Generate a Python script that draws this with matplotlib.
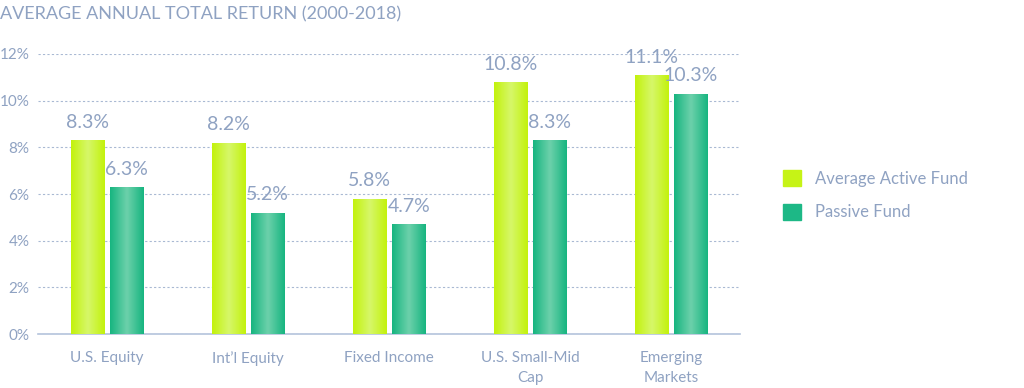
import numpy as np
import matplotlib.pyplot as plt
from matplotlib.colors import LinearSegmentedColormap
from matplotlib.patches import Patch

categories = ["U.S. Equity", "Int\u2019l Equity", "Fixed Income", "U.S. Small-Mid\nCap", "Emerging\nMarkets"]
active = [8.3, 8.2, 5.8, 10.8, 11.1]
passive = [6.3, 5.2, 4.7, 8.3, 10.3]
series_names = ["Average Active Fund", "Passive Fund"]

txt = "#8fa2c2"
grid_c = "#a9b9d3"
plt.rcParams['font.family'] = ['Lato', 'DejaVu Sans']

fig = plt.figure(figsize=(10.24, 3.88), dpi=100)
ax = fig.add_axes([0.037, 0.139, 0.686, 0.722])

x = np.arange(len(categories))
w = 0.235
off = 0.14

# colors: edge (darker) and center (lighter)
cmaps = [
    LinearSegmentedColormap.from_list("act", ["#c3f20c", "#d6f76a", "#c3f20c"]),
    LinearSegmentedColormap.from_list("pas", ["#17b580", "#6dd1ab", "#17b580"]),
]
solid = ["#c6f316", "#1db886"]

grad = np.linspace(0, 1, 64).reshape(1, -1)
for k, (vals, sign) in enumerate([(active, -1), (passive, 1)]):
    bars = ax.bar(x + sign * off, vals, w, color=solid[k], zorder=3)
    for b, v in zip(bars, vals):
        x0 = b.get_x()
        im = ax.imshow(grad, cmap=cmaps[k], extent=[x0, x0 + w, 0, v],
                       aspect='auto', zorder=3, interpolation='bicubic')
        im.set_clip_path(b)
        ax.text(x0 + w / 2, v + 0.4, f"{v:.1f}%", ha='center', va='bottom',
                color=txt, fontsize=14, zorder=4)

ax.set_xlim(-0.49, 4.49)
ax.set_ylim(0, 12)
ax.set_yticks(np.arange(0, 13, 2))
ax.set_yticklabels([f"{t}%" for t in range(0, 13, 2)])
ax.set_xticks(x)
ax.set_xticklabels(categories, linespacing=1.6)
ax.tick_params(length=0, colors=txt, labelsize=11)
ax.tick_params(axis='x', pad=12)
ax.tick_params(axis='y', pad=6)

ax.yaxis.grid(True, linestyle=(0, (2, 2)), color=grid_c, linewidth=0.8, zorder=0)
for s in ['top', 'right', 'left']:
    ax.spines[s].set_visible(False)
ax.spines['bottom'].set_color("#b4c3dc")
ax.spines['bottom'].set_linewidth(1.2)
ax.set_axisbelow(True)

fig.text(0.0, 0.985, "AVERAGE ANNUAL TOTAL RETURN (2000-2018)", ha='left', va='top',
         color=txt, fontsize=13)

handles = [Patch(color=solid[0]), Patch(color=solid[1])]
fig.legend(handles, series_names, loc='upper left', bbox_to_anchor=(0.75, 0.6),
           frameon=False, fontsize=12, labelcolor=txt, handlelength=1.1,
           handleheight=1.1, handletextpad=0.8, labelspacing=1.0)

fig.savefig("out.png", dpi=100)
